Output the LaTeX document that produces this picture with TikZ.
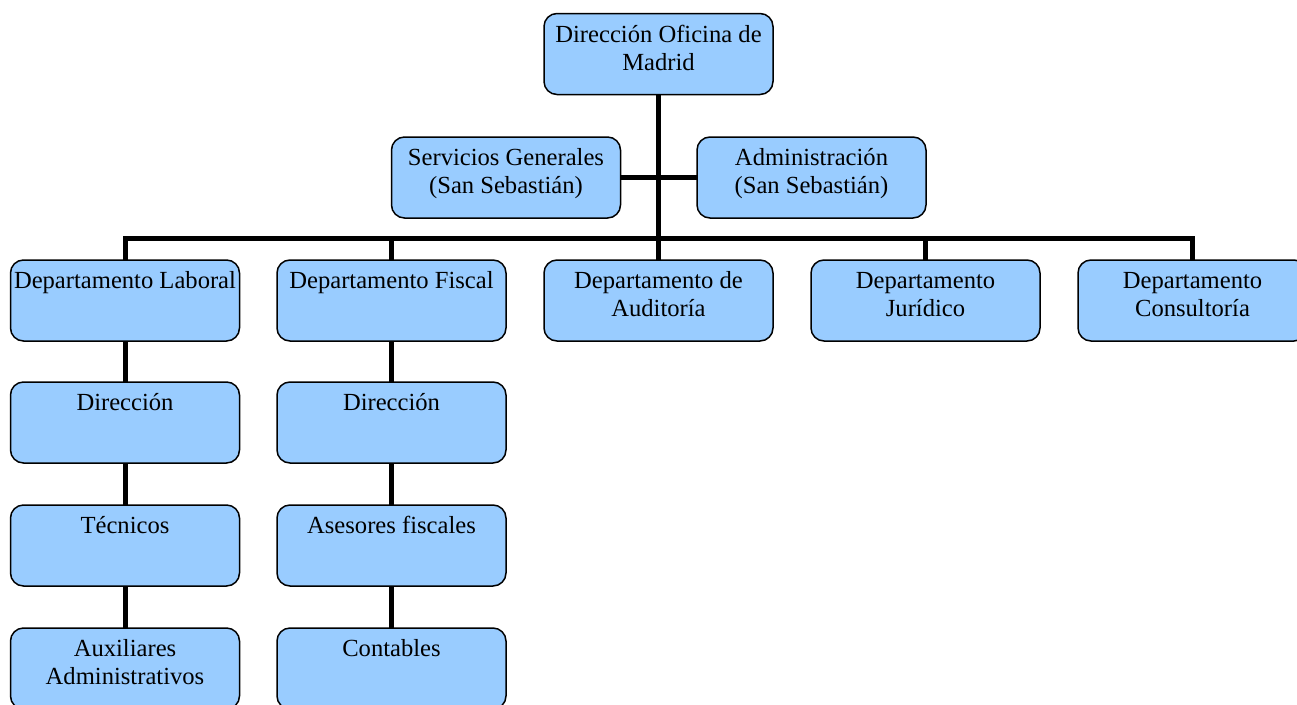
\documentclass[tikz,border=0pt]{standalone}
\usepackage{fontspec}
\setmainfont{Liberation Serif}
\definecolor{boxblue}{RGB}{153,204,255}
\newcommand{\bxt}[1]{\parbox[t][81pt][t]{229pt}{\centering\fontsize{24.6pt}{28pt}\selectfont\rule{0pt}{28.5pt}#1}}
\tikzset{
  orgbox/.style={draw=black, line width=1.5pt, fill=boxblue, rounded corners=13pt,
    inner sep=0pt, outer sep=0pt, anchor=north},
  link/.style={draw=black, line width=5pt, line join=miter}
}
\begin{document}
\begin{tikzpicture}[x=1pt,y=-1pt]
\useasboundingbox (0,0) rectangle (1297,704);
\clip (0,0) rectangle (1297,704);
\node[orgbox] (top) at (658.5,13.5) {\bxt{Dirección Oficina de\\Madrid}};
\node[orgbox] (serv) at (506,137) {\bxt{Servicios Generales\\(San Sebastián)}};
\node[orgbox] (adm) at (811.5,137) {\bxt{Administración\\(San Sebastián)}};
\node[orgbox] (d1) at (125,260) {\bxt{Departamento Laboral}};
\node[orgbox] (d2) at (391.5,260) {\bxt{Departamento Fiscal}};
\node[orgbox] (d3) at (658.5,260) {\bxt{Departamento de\\Auditoría}};
\node[orgbox] (d4) at (925.5,260) {\bxt{Departamento\\Jurídico}};
\node[orgbox] (d5) at (1192.5,260) {\bxt{Departamento\\Consultoría}};
\node[orgbox] (l1) at (125,382) {\bxt{Dirección}};
\node[orgbox] (l2) at (125,505) {\bxt{Técnicos}};
\node[orgbox] (l3) at (125,628) {\bxt{Auxiliares\\Administrativos}};
\node[orgbox] (f1) at (391.5,382) {\bxt{Dirección}};
\node[orgbox] (f2) at (391.5,505) {\bxt{Asesores fiscales}};
\node[orgbox] (f3) at (391.5,628) {\bxt{Contables}};
\coordinate (barc) at (658.5,238);
% connectors
\path[link] (top.south) -- (barc);
\path[link] (serv.east) -- (adm.west);
\path[link] (d1.north) -- (d1.north |- barc) -- (d5.north |- barc) -- (d5.north);
\path[link] (d2.north) -- (d2.north |- barc);
\path[link] (d3.north) -- (d3.north |- barc);
\path[link] (d4.north) -- (d4.north |- barc);
\path[link] (d1.south) -- (l1.north);
\path[link] (l1.south) -- (l2.north);
\path[link] (l2.south) -- (l3.north);
\path[link] (d2.south) -- (f1.north);
\path[link] (f1.south) -- (f2.north);
\path[link] (f2.south) -- (f3.north);
\end{tikzpicture}
\end{document}
